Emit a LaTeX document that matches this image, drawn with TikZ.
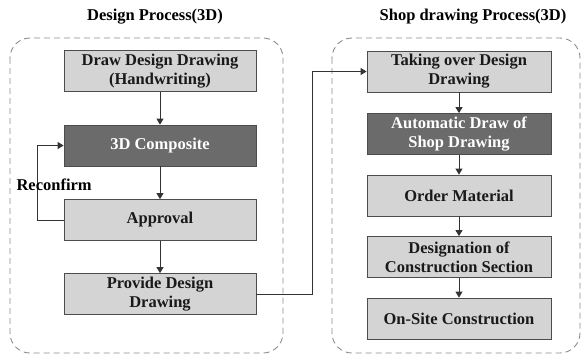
\documentclass[tikz,border=0pt]{standalone}
\usepackage{fontspec}
\setmainfont{Liberation Serif}
\usetikzlibrary{arrows.meta,positioning}

\begin{document}
\begin{tikzpicture}[x=1pt,y=-1pt]

		\tikzstyle{group}=[draw=gray!90,line width=0.9pt,dash pattern=on 6pt off 4pt,rounded corners=20pt]
		\tikzstyle{title}=[font=\fontsize{16.5}{19}\selectfont\bfseries]
		\tikzstyle{light}=[draw=black!70,line width=0.8pt,fill=black!17,align=center,inner sep=0pt,font=\fontsize{16.5}{19}\selectfont\bfseries,text=black!90]
		\tikzstyle{dark}=[light,fill=black!58,text=white]
		\tikzstyle{flow}=[line width=0.8pt,draw=black!80,-{Triangle[length=6pt,width=7pt]}]
		
		\useasboundingbox (0,0) rectangle (583,357);
		
		% the two process groups
		\draw[group] (10,38) rectangle (283,353);
		\draw[group] (332,38) rectangle (580,353);
		\node[title] (designtitle) at (155,17) {Design Process(3D)};
		\node[title] (shoptitle) at (473,17) {Shop drawing Process(3D)};
		
		% design side
		\node[light,minimum width=192pt,minimum height=41pt] (draw) at (160,71) {Draw Design Drawing\\(Handwriting)};
		\node[dark,minimum width=192pt,minimum height=41pt] (composite) at (160,145.5) {3D Composite};
		\node[light,minimum width=192pt,minimum height=41pt] (approval) at (160,220) {Approval};
		\node[light,minimum width=192pt,minimum height=41pt] (provide) at (160,294) {Provide Design\\Drawing};
		
		% shop drawing side
		\node[light,minimum width=184pt,minimum height=41pt] (takeover) at (459,71.5) {Taking over Design\\Drawing};
		\node[dark,minimum width=184pt,minimum height=41pt] (autodraw) at (459,134) {Automatic Draw of\\Shop Drawing};
		\node[light,minimum width=184pt,minimum height=41pt] (order) at (459,195.5) {Order Material};
		\node[light,minimum width=184pt,minimum height=41pt] (section) at (459,257) {Designation of\\Construction Section};
		\node[light,minimum width=184pt,minimum height=41pt] (onsite) at (459,318.5) {On-Site Construction};
		
		\draw[flow] (draw) -- (composite);
		\draw[flow] (composite) -- (approval);
		\draw[flow] (approval) -- (provide);
		\draw[flow] (approval.west) -- ++(-26,0) |- (composite.west);
		\node[title,anchor=west] (reconfirm) at (13,185) {Reconfirm};
		
		\draw[flow] (provide.east) -- (312,294) |- (takeover.west);
		\draw[flow] (takeover) -- (autodraw);
		\draw[flow] (autodraw) -- (order);
		\draw[flow] (order) -- (section);
		\draw[flow] (section) -- (onsite);
		
\end{tikzpicture}
\end{document}
